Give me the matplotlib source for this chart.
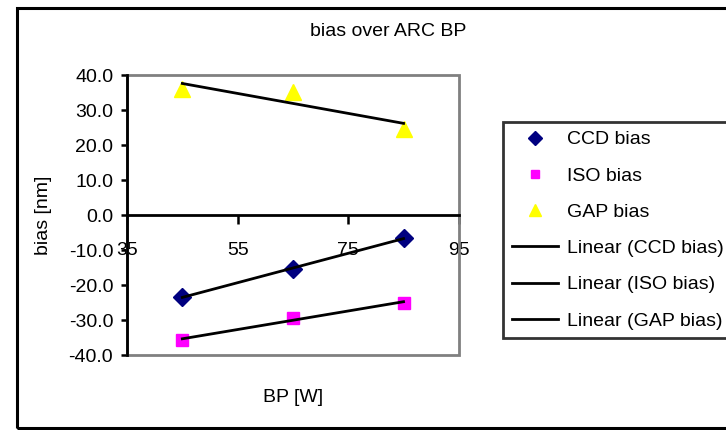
import matplotlib
matplotlib.use('Agg')
import matplotlib.pyplot as plt
import numpy as np
from matplotlib.patches import Rectangle
from matplotlib.lines import Line2D

plt.rcParams['font.family'] = ['Liberation Sans', 'DejaVu Sans']

bp = [45, 65, 85]
ccd_bias = [-23.4, -15.4, -6.6]
iso_bias = [-35.7, -29.4, -25.1]
gap_bias = [36.0, 35.1, 24.6]

fig = plt.figure(figsize=(7.26, 4.30), dpi=100)
ax = fig.add_axes([0.175, 0.1744, 0.457, 0.651])

# outer chart border (right edge runs off the picture)
fig.patches.append(Rectangle((17 / 726, 2 / 430), 1.0, 420 / 430, transform=fig.transFigure,
                             fill=False, edgecolor='black', linewidth=2.2, zorder=0))

ax.plot(bp, ccd_bias, linestyle='none', marker='D', color='#000080', markersize=9, zorder=4)
ax.plot(bp, iso_bias, linestyle='none', marker='s', color='#FF00FF', markersize=9, zorder=4)
ax.plot(bp, gap_bias, linestyle='none', marker='^', color='#FFFF00', markersize=11, zorder=4)

xs = np.array([bp[0], bp[-1]])
for vals in (ccd_bias, iso_bias, gap_bias):
    k, b = np.polyfit(bp, vals, 1)
    ax.plot(xs, k * xs + b, color='black', linewidth=2, zorder=5)

ax.set_xlim(35, 95)
ax.set_ylim(-40, 40)
ax.set_xticks([35, 55, 75, 95])
ax.set_yticks(np.arange(-40, 41, 10))
ax.yaxis.set_major_formatter(matplotlib.ticker.FormatStrFormatter('%.1f'))

for s in ('top', 'right'):
    ax.spines[s].set_visible(False)
ax.spines['left'].set_linewidth(2)
ax.spines['left'].set_color('black')
ax.spines['bottom'].set_position(('data', 0))
ax.spines['bottom'].set_linewidth(2)
ax.spines['bottom'].set_zorder(3)
ax.add_patch(Rectangle((0, 0), 1, 1, transform=ax.transAxes, fill=False,
                       edgecolor='#808080', linewidth=2, zorder=2, clip_on=False))

ax.tick_params(axis='x', direction='out', length=6.5, width=1.8, pad=13, labelsize=14)
ax.tick_params(axis='y', direction='out', length=4, width=1.8, pad=6, labelsize=14)

fig.text(388 / 726, 1 - 32 / 430, 'bias over ARC BP', fontsize=14, ha='center', va='center')
ax.set_xlabel('BP [W]', fontsize=14)
ax.xaxis.set_label_coords(0.5, -0.12)
ax.set_ylabel('bias [nm]', fontsize=14)
ax.yaxis.set_label_coords(-0.225, 0.5)

handles = [
    Line2D([], [], linestyle='none', marker='D', color='#000080', markersize=7),
    Line2D([], [], linestyle='none', marker='s', color='#FF00FF', markersize=6),
    Line2D([], [], linestyle='none', marker='^', color='#FFFF00', markersize=9),
    Line2D([], [], color='black', linewidth=2),
    Line2D([], [], color='black', linewidth=2),
    Line2D([], [], color='black', linewidth=2),
]
labels = ['CCD bias', 'ISO bias', 'GAP bias',
          'Linear (CCD bias)', 'Linear (ISO bias)', 'Linear (GAP bias)']
leg = fig.legend(handles, labels, loc='upper left', bbox_to_anchor=(503 / 726, 1 - 122 / 430),
                 fontsize=14, frameon=True, fancybox=False, handlelength=2.4,
                 handletextpad=0.45, labelspacing=0.96, borderpad=0.45, borderaxespad=0)
leg.get_frame().set_edgecolor('black')
leg.get_frame().set_linewidth(2)

fig.savefig('out.png', dpi=100)
